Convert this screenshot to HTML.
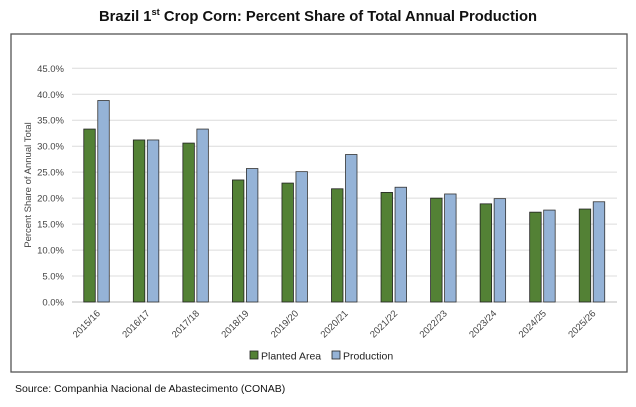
<!DOCTYPE html>
<html><head><meta charset="utf-8"><style>
body{margin:0;background:#fff;font-family:"Liberation Sans",sans-serif;}
svg text{font-family:"Liberation Sans",sans-serif;}
</style></head><body>
<svg width="636" height="402">
<text x="318" y="21" text-anchor="middle" font-size="15" font-weight="bold" fill="#111" textLength="438" lengthAdjust="spacingAndGlyphs">Brazil 1<tspan font-size="9.5" dy="-6">st</tspan><tspan dy="6"> Crop Corn:  Percent Share of Total Annual Production</tspan></text>
<rect x="11" y="34" width="616" height="338" fill="#fff" stroke="#555" stroke-width="1.3"/>
<g id="grid"></g><g id="bars"></g><g id="xl"></g>
<text transform="translate(31,185) rotate(-90)" text-anchor="middle" font-size="9.5" fill="#444">Percent Share of Annual Total</text>
<g>
<rect x="250" y="351" width="8" height="8" fill="#538135" stroke="#222" stroke-width="0.8"/>
<text x="261" y="359.5" font-size="10.5" fill="#222">Planted Area</text>
<rect x="332" y="351" width="8" height="8" fill="#95b3d7" stroke="#222" stroke-width="0.8"/>
<text x="343" y="359.5" font-size="10.5" fill="#222">Production</text>
</g>
<text x="15" y="392" font-size="10.5" fill="#111">Source: Companhia Nacional de Abastecimento (CONAB)</text>
</svg>
<script>
const categories=["2015/16","2016/17","2017/18","2018/19","2019/20","2020/21","2021/22","2022/23","2023/24","2024/25","2025/26"];
const plantedArea=[33.3,31.2,30.6,23.5,22.9,21.8,21.1,20.0,18.9,17.3,17.9];
const production=[38.8,31.2,33.3,25.7,25.1,28.4,22.1,20.8,19.9,17.7,19.3];
const yTicks=[0,5,10,15,20,25,30,35,40,45];
const NS="http://www.w3.org/2000/svg";
const L=72,R=617,Y0=302,Y45=68.3;
const y=v=>Y0-(v/45)*(Y0-Y45);
const cw=(R-L)/categories.length;
const x=i=>L+cw*(i+0.5);
function mk(t,a,p){const e=document.createElementNS(NS,t);for(const k in a)e.setAttribute(k,a[k]);p.appendChild(e);return e;}
const g=document.getElementById('grid'),b=document.getElementById('bars'),xl=document.getElementById('xl');
yTicks.forEach(t=>{
 const ln=mk('line',{x1:L,x2:R,y1:y(t),y2:y(t),stroke:t===0?'#bbb':'#dcdcdc','stroke-width':1},g);
 
 
 const tx=mk('text',{x:L-8,y:y(t)+3.5,'text-anchor':'end','font-size':9.5,fill:'#444'},g);
 tx.textContent=t.toFixed(1)+'%';
 
 
});
categories.forEach((c,i)=>{
 const cx=x(i);
 const r1=mk('rect',{x:cx-13,y:y(plantedArea[i]),width:11.5,height:Y0-y(plantedArea[i]),fill:'#538135',stroke:'#222','stroke-width':0.8},b);
 
 
 const r2=mk('rect',{x:cx+1,y:y(production[i]),width:11.5,height:Y0-y(production[i]),fill:'#95b3d7',stroke:'#333','stroke-width':0.8},b);
 
 
 const t=mk('text',{transform:`translate(${cx+4},${Y0+12}) rotate(-45)`,'text-anchor':'end','font-size':9.5,fill:'#444'},xl);
 t.textContent=c;
 
 
});
</script>
</body></html>
